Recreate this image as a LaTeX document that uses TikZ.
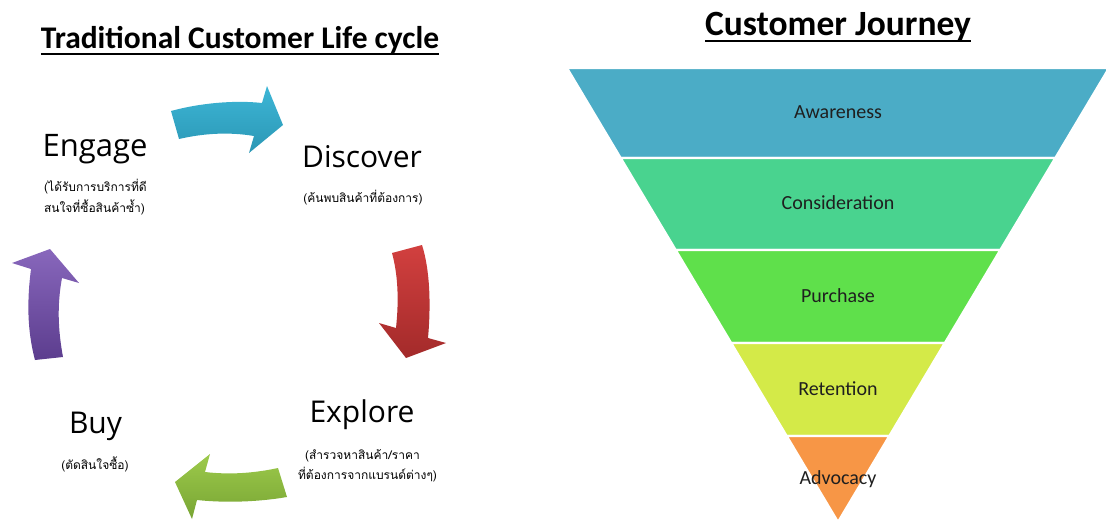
\documentclass[tikz,border=0pt]{standalone}
\usepackage{fontspec}
\setmainfont{Carlito}
\newfontfamily\cycfont{Open Sans}
\newfontfamily\thaifont[Script=Thai]{Loma}
\definecolor{cAware}{HTML}{4BACC6}
\definecolor{cCons}{HTML}{49D38F}
\definecolor{cPurch}{HTML}{5FE04B}
\definecolor{cRet}{HTML}{D4EA48}
\definecolor{cAdv}{HTML}{F79646}
\definecolor{blueT}{HTML}{3DB6D6}
\definecolor{blueB}{HTML}{2B97B5}
\definecolor{redT}{HTML}{D2403F}
\definecolor{redB}{HTML}{A32A2A}
\definecolor{greenT}{HTML}{9DCA4B}
\definecolor{greenB}{HTML}{78A534}
\definecolor{purpT}{HTML}{8867BC}
\definecolor{purpB}{HTML}{5C3D8E}
\begin{document}
\begin{tikzpicture}[x=1pt,y=-1pt,
  every node/.style={inner sep=0pt, outer sep=0pt},
  band/.style={draw=white, line width=2.2pt, line join=miter},
  funlbl/.style={font=\fontsize{20}{24}\selectfont, text=black!88},
  cyclbl/.style={font=\cycfont\fontsize{30}{34}\selectfont, anchor=base},
  thaisub/.style={font=\thaifont\fontsize{12}{14}\selectfont, anchor=base},
  ttl/.style={font=\bfseries\fontsize{31.5}{36}\selectfont, anchor=base},
  uline/.style={line width=2pt, black}
]
\useasboundingbox (0,0) rectangle (1106,522);
\clip (0,0) rectangle (1106,522);

% ---------- titles ----------
\node[ttl] (t1) at (240,48) {Traditional Customer Life cycle};
\draw[uline] ([yshift=-6pt]t1.base west) -- ([yshift=-6pt]t1.base east);
\node[ttl, font=\bfseries\fontsize{35.5}{40}\selectfont] (t2) at (838,35) {Customer Journey};
\draw[uline] ([yshift=-6pt]t2.base west) -- ([yshift=-6pt]t2.base east);

% ---------- funnel ----------
\fill[cAware, band] (567,68) -- (1109,68) -- (1055.3,158) -- (620.7,158) -- cycle;
\fill[cCons, band] (620.7,158) -- (1055.3,158) -- (1000.3,250) -- (675.7,250) -- cycle;
\fill[cPurch, band] (675.7,250) -- (1000.3,250) -- (944.8,343) -- (731.2,343) -- cycle;
\fill[cRet, band] (731.2,343) -- (944.8,343) -- (889.3,436) -- (786.7,436) -- cycle;
\fill[cAdv, band] (786.7,436) -- (889.3,436) -- (838,522) -- cycle;

\node[funlbl] (aw) at (838,112) {Awareness};
\node[funlbl] (co) at (838,203) {Consideration};
\node[funlbl] (pu) at (838,296) {Purchase};
\node[funlbl] (re) at (838,389) {Retention};
\node[funlbl] (ad) at (838,479) {Advocacy};

% ---------- cycle arrows ----------
% blue (top, pointing right)
\shade[top color=blueT, bottom color=blueB]
  (171,111) .. controls (200,103) and (235,100) .. (262,103)
  -- (267,86) -- (283,125) -- (249,153) -- (254,136)
  .. controls (230,132) and (205,133) .. (179,139) -- cycle;
% red (right, pointing down)
\shade[top color=redT, bottom color=redB]
  (392,253) -- (422,245)
  .. controls (430,270) and (431,305) .. (428,338)
  -- (446,343) -- (406,358) -- (379,323) -- (396,328)
  .. controls (399,300) and (398,275) .. (392,253) -- cycle;
% green (bottom, pointing left)
\shade[top color=greenT, bottom color=greenB]
  (287,497) -- (278,468)
  .. controls (255,473) and (230,475) .. (205,472)
  -- (210,454) -- (175,482) -- (192,519) -- (197,500)
  .. controls (225,503) and (258,502) .. (287,497) -- cycle;
% purple (left, pointing up)
\shade[top color=purpT, bottom color=purpB]
  (35,360) .. controls (27,330) and (27,300) .. (31,269)
  -- (12,263) -- (50,249) -- (79,283) -- (62,278)
  .. controls (57,305) and (58,330) .. (63,357) -- cycle;

% ---------- cycle labels ----------
\node[cyclbl, font=\cycfont\fontsize{31}{34}\selectfont] (eng) at (95,156) {Engage};
\node[thaisub] (engA) at (95.5,191) {(ได้รับการบริการที่ดี};
\node[thaisub] (engB) at (94.5,212) {สนใจที่ซื้อสินค้าซ้ำ)};

\node[cyclbl] (dis) at (362,167) {Discover};
\node[thaisub] (disA) at (363,202) {(ค้นพบสินค้าที่ต้องการ)};

\node[cyclbl] (exp) at (362,422) {Explore};
\node[thaisub] (expA) at (362.5,459) {(สำรวจหาสินค้า/ราคา};
\node[thaisub] (expB) at (367.5,479) {ที่ต้องการจากแบรนด์ต่างๆ)};

\node[cyclbl] (buy) at (95.5,433) {Buy};
\node[thaisub] (buyA) at (95,469) {(ตัดสินใจซื้อ)};
\end{tikzpicture}
\end{document}
